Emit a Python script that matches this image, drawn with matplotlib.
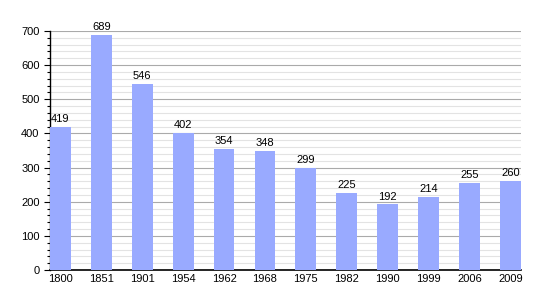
import matplotlib
matplotlib.use('Agg')
import matplotlib.pyplot as plt
from matplotlib.ticker import MultipleLocator

years = ['1800', '1851', '1901', '1954', '1962', '1968', '1975', '1982',
         '1990', '1999', '2006', '2009']
population = [419, 689, 546, 402, 354, 348, 299, 225, 192, 214, 255, 260]


def main():
    plt.rcParams['font.family'] = ['Liberation Sans', 'DejaVu Sans']
    fig = plt.figure(figsize=(5.5, 3), dpi=100)
    ax = fig.add_axes([0.0909, 0.1, 0.856, 0.797])

    x = range(len(years))
    ax.bar(x, population, width=0.51, color='#99aaff', zorder=3)
    for i, v in zip(x, population):
        ax.text(i, v + 8, str(v), ha='center', va='bottom', fontsize=8, zorder=4)

    ax.set_xlim(-0.255, len(years) - 1 + 0.255)
    ax.set_ylim(0, 700)
    ax.set_xticks(list(x))
    ax.set_xticklabels(years, fontsize=8)
    ax.yaxis.set_major_locator(MultipleLocator(100))
    ax.yaxis.set_minor_locator(MultipleLocator(20))
    ax.tick_params(axis='y', labelsize=8, which='major', length=4, width=0.8)
    ax.tick_params(axis='y', which='minor', length=2.5, width=0.8)
    ax.tick_params(axis='x', length=0, pad=3)

    ax.grid(axis='y', which='major', color='#aaaaaa', linewidth=0.8, zorder=0)
    ax.grid(axis='y', which='minor', color='#e3e3e3', linewidth=0.8, zorder=0)
    for side in ['top', 'right']:
        ax.spines[side].set_visible(False)
    ax.spines['left'].set_linewidth(1)
    ax.spines['bottom'].set_linewidth(1.2)

    fig.savefig('out.png', dpi=100)


if __name__ == '__main__':
    main()
